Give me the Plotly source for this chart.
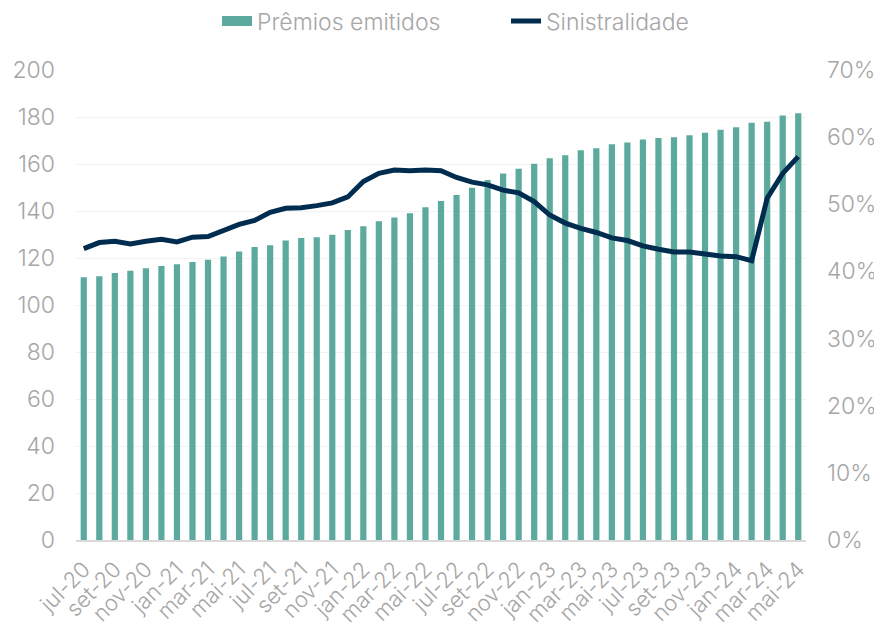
import plotly.graph_objects as go

months = ["jan", "fev", "mar", "abr", "mai", "jun", "jul", "ago", "set", "out", "nov", "dez"]
categories = []
for y in range(20, 25):
    for i, m in enumerate(months):
        if (y == 20 and i < 6) or (y == 24 and i > 4):
            continue
        categories.append(f"{m}-{y}")

premios = [111.8, 112.2, 113.6, 114.6, 115.6, 116.6, 117.3, 118.3, 119.3, 120.6,
           122.8, 124.7, 125.4, 127.4, 128.5, 128.8, 129.9, 131.9, 133.5, 135.6,
           137.2, 139.0, 141.6, 144.3, 146.8, 149.9, 153.2, 156.0, 158.0, 160.1,
           162.4, 163.7, 165.8, 166.7, 168.4, 169.2, 170.4, 171.1, 171.4, 172.2,
           173.3, 174.6, 175.6, 177.6, 178.0, 180.6, 181.6]

sinistralidade = [43.4, 44.3, 44.5, 44.1, 44.5, 44.8, 44.4, 45.1, 45.2, 46.1,
                  47.0, 47.6, 48.8, 49.4, 49.5, 49.8, 50.2, 51.1, 53.4, 54.6,
                  55.1, 55.0, 55.1, 55.0, 54.0, 53.3, 52.9, 52.1, 51.7, 50.4,
                  48.4, 47.2, 46.4, 45.8, 45.0, 44.6, 43.8, 43.3, 42.9, 42.9,
                  42.6, 42.3, 42.2, 41.6, 50.9, 54.6, 57.1]
sinistralidade = [v / 100 for v in sinistralidade]

left_ticks = [0, 20, 40, 60, 80, 100, 120, 140, 160, 180, 200]
right_ticks = [0, 0.1, 0.2, 0.3, 0.4, 0.5, 0.6, 0.7]

FONT = "Inter"
GREY = "#A6A6A6"
TEAL = "#5BAA9D"
NAVY = "#002D4F"

fig = go.Figure()
fig.add_trace(go.Bar(
    x=categories, y=premios, name="Prêmios emitidos",
    marker=dict(color=TEAL, line=dict(width=0)),
    yaxis="y", showlegend=False,
))
# legend proxy for the bar series (wide rectangular swatch)
fig.add_trace(go.Scatter(
    x=[categories[0]], y=[None], name="Prêmios emitidos",
    mode="lines", line=dict(color=TEAL, width=13),
    yaxis="y", showlegend=True, hoverinfo="skip",
))
fig.add_trace(go.Scatter(
    x=categories, y=sinistralidade, name="Sinistralidade",
    mode="lines", line=dict(color=NAVY, width=5),
    yaxis="y2",
))

fig.update_layout(
    width=882, height=628,
    margin=dict(l=68, r=84, t=62, b=96, autoexpand=False),
    paper_bgcolor="white", plot_bgcolor="white",
    bargap=0.6,
    font=dict(family=FONT, color=GREY, size=22, weight=300),
    showlegend=True,
    legend=dict(orientation="h", xref="container", x=209 / 882, xanchor="left",
                yref="container", y=1 - 13 / 628, yanchor="middle",
                font=dict(size=23, color=GREY, family=FONT, weight=300),
                traceorder="normal", itemwidth=30, entrywidth=244),
    xaxis=dict(
        type="category", automargin=False,
        tickmode="array", tickvals=categories[::2], ticktext=categories[::2],
        tickangle=-45, tickfont=dict(size=22, color=GREY, family=FONT, weight=300),
        showgrid=False, showline=True, linecolor="#D9D9D9", linewidth=1.5,
        ticks="", zeroline=False, ticklabelstandoff=6,
    ),
    yaxis=dict(
        range=[0, 200], tickmode="array", tickvals=left_ticks, automargin=False,
        tickfont=dict(size=23, color=GREY, family=FONT, weight=300),
        showgrid=True, gridcolor="#F2F2F2", gridwidth=1,
        zeroline=False, showline=False, ticks="", ticklabelstandoff=20,
    ),
    yaxis2=dict(
        range=[0, 0.7], tickmode="array", tickvals=right_ticks, tickformat=".0%",
        overlaying="y", side="right", automargin=False,
        tickfont=dict(size=23, color=GREY, family=FONT, weight=300),
        showgrid=False, zeroline=False, showline=False, ticks="", ticklabelstandoff=20,
    ),
)

fig.write_html("out.html")
